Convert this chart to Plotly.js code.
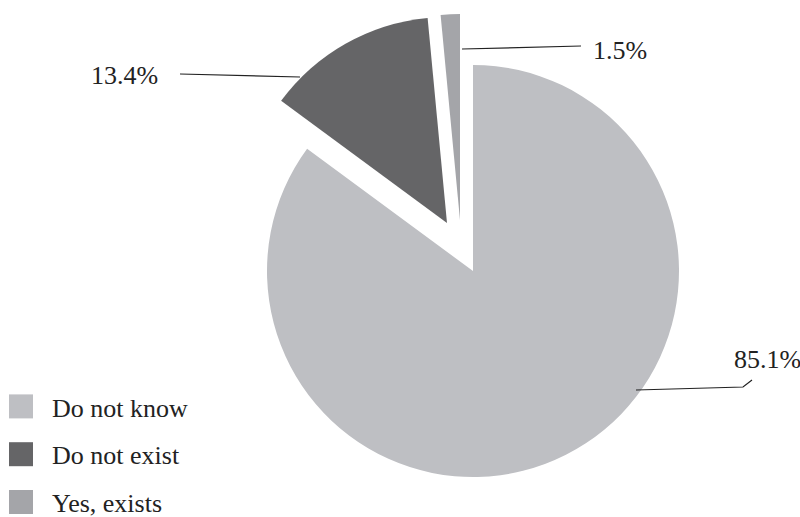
<!DOCTYPE html>
<html>
<head>
<meta charset="utf-8">
<script src="https://cdn.plot.ly/plotly-3.0.1.min.js"></script>
<style>
  html, body { margin: 0; padding: 0; background: #ffffff; }
  #chart { width: 800px; height: 517px; }
</style>
</head>
<body>
<div id="chart"></div>
<script>
// ---- data ----
const labels = ["Do not know", "Do not exist", "Yes, exists"];
const values = [85.1, 13.4, 1.5];
const sliceColors = ["#bebfc3", "#656567", "#a4a5a9"];

// ---- layout helpers (pixel geometry of the exploded pie) ----
const W = 800, H = 517;
const R = 206;                       // pie radius in px
const sliceCentres = [[473, 271], [447, 223], [460, 220]]; // apex of each (exploded) slice
const FONT = "Liberation Serif, 'DejaVu Serif', serif";
const INK = "#222222";
const TRANSPARENT = "rgba(0,0,0,0)";

function px(x) { return x / W; }
function py(y) { return 1 - y / H; }
function domainAt(c) {
  return { x: [px(c[0] - R), px(c[0] + R)], y: [py(c[1] + R), py(c[1] - R)] };
}

const traces = [];
// one trace per visible slice, so that each exploded slice can sit at its own apex
labels.forEach(function (lab, i) {
  traces.push({
    type: "pie",
    labels: labels,
    values: values,
    sort: false,
    direction: "clockwise",
    rotation: 0,
    marker: { colors: sliceColors.map(function (c, j) { return j === i ? c : TRANSPARENT; }),
              line: { width: 0 } },
    domain: domainAt(sliceCentres[i]),
    textinfo: "none",
    hoverinfo: "skip",
    showlegend: false
  });
});
// legend entries (one group per label for the row spacing)
labels.forEach(function (lab, i) {
  traces.push({
    type: "pie",
    labels: [lab],
    values: [values[i]],
    sort: false,
    marker: { colors: [sliceColors[i]], line: { width: 0 } },
    domain: { x: [0, 0.00001], y: [0.99999, 1] },
    textinfo: "none",
    hoverinfo: "skip",
    legendgroup: "g" + i,
    showlegend: true
  });
});

// percentage labels and leader lines
const pctText = values.map(function (v) { return v.toFixed(1) + "%"; });
const labelPos = [
  { x: 732, y: 359, anchor: "left" },   // 85.1%
  { x: 160, y: 75, anchor: "right" },   // 13.4%
  { x: 591, y: 51, anchor: "left" }     // 1.5%
];
const leaders = [
  [[636, 390], [743, 387], [752, 380]],
  [[180, 74], [300, 77]],
  [[462, 49], [581, 46]]
];

const annotations = pctText.map(function (t, i) {
  return {
    text: t, xref: "paper", yref: "paper",
    x: px(labelPos[i].x), y: py(labelPos[i].y),
    xanchor: labelPos[i].anchor, yanchor: "middle",
    showarrow: false,
    font: { family: FONT, size: 26, color: INK }
  };
});
const shapes = leaders.map(function (pts) {
  return {
    type: "path", xref: "paper", yref: "paper",
    path: pts.map(function (p, k) { return (k ? "L" : "M") + px(p[0]) + "," + py(p[1]); }).join(" "),
    line: { color: INK, width: 1.2 }
  };
});

const layout = {
  width: W, height: H,
  margin: { l: 0, r: 0, t: 0, b: 0, autoexpand: false },
  paper_bgcolor: "#ffffff",
  plot_bgcolor: "#ffffff",
  showlegend: true,
  legend: {
    x: px(-10), xanchor: "left",
    y: py(383), yanchor: "top",
    traceorder: "grouped",
    tracegroupgap: 11,
    font: { family: FONT, size: 26, color: INK },
    bgcolor: "rgba(0,0,0,0)",
    borderwidth: 0,
    itemwidth: 52
  },
  annotations: annotations,
  shapes: shapes
};

Plotly.newPlot("chart", traces, layout, { displayModeBar: false, staticPlot: true }).then(function (gd) {
  // enlarge the legend swatches to match the reference
  gd.querySelectorAll(".legendpie").forEach(function (p) {
    p.setAttribute("d", "M12,12H-12V-12H12Z");
  });
});
</script>
</body>
</html>
